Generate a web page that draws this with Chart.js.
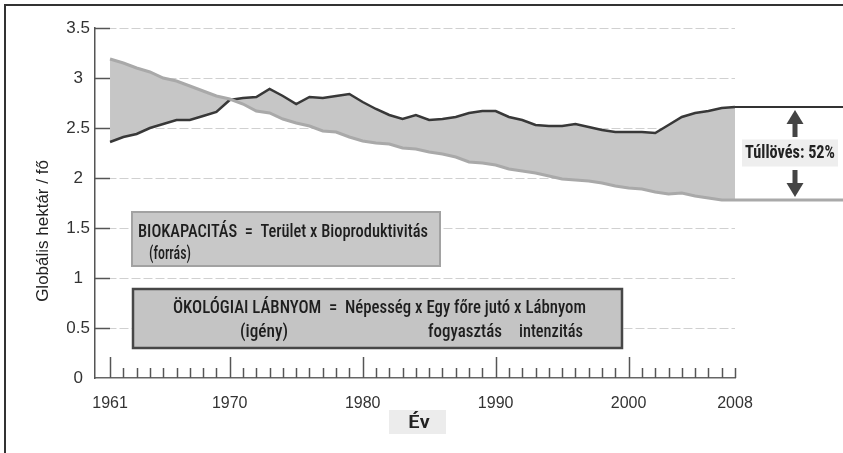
<!DOCTYPE html>
<html>
<head>
<meta charset="utf-8">
<script src="https://cdn.jsdelivr.net/npm/chart.js@4.4.1/dist/chart.umd.min.js"></script>
<style>
html, body { margin: 0; padding: 0; background: #fff; }
</style>
</head>
<body>
<canvas id="graph" width="843" height="453"></canvas>
<script>
// ADATOK
const years = [
    1961, 1962, 1963, 1964, 1965, 1966, 1967, 1968, 1969, 1970,
    1971, 1972, 1973, 1974, 1975, 1976, 1977, 1978, 1979, 1980,
    1981, 1982, 1983, 1984, 1985, 1986, 1987, 1988, 1989, 1990,
    1991, 1992, 1993, 1994, 1995, 1996, 1997, 1998, 1999, 2000,
    2001, 2002, 2003, 2004, 2005, 2006, 2007, 2008
];
const biocapacity = [
    3.19, 3.15, 3.10, 3.06, 3.00, 2.97, 2.92, 2.87, 2.82, 2.79,
    2.74, 2.67, 2.65, 2.59, 2.55, 2.52, 2.47, 2.46, 2.41, 2.37,
    2.35, 2.34, 2.30, 2.29, 2.26, 2.24, 2.21, 2.16, 2.15, 2.13,
    2.09, 2.07, 2.05, 2.02, 1.99, 1.98, 1.97, 1.95, 1.92, 1.90,
    1.89, 1.86, 1.84, 1.85, 1.82, 1.80, 1.78, 1.78
];
const footprint = [
    2.36, 2.41, 2.44, 2.50, 2.54, 2.58, 2.58, 2.62, 2.66, 2.78,
    2.80, 2.81, 2.89, 2.82, 2.74, 2.81, 2.80, 2.82, 2.84, 2.76,
    2.69, 2.63, 2.59, 2.63, 2.58, 2.59, 2.61, 2.65, 2.67, 2.67,
    2.61, 2.58, 2.53, 2.52, 2.52, 2.54, 2.51, 2.48, 2.46, 2.46,
    2.46, 2.45, 2.53, 2.61, 2.65, 2.67, 2.70, 2.71
];
const xLabelYears = [1961, 1970, 1980, 1990, 2000, 2008];
const majorTickYears = [1961, 1970, 1980, 1990, 2000];
const overshootText = "Túllövés: 52%";

const NARROW = "'Roboto Condensed', Roboto, 'Liberation Sans', sans-serif";
const PLAIN = "'Liberation Sans', Arial, sans-serif";

// keskeny szöveg adott szélességre
function fitText(c, text, x, y, size, weight, width) {
    c.save();
    c.font = weight + " " + size + "px " + NARROW;
    const w = c.measureText(text).width;
    c.translate(x, y);
    c.scale(width / w, 1);
    c.textAlign = "left";
    c.textBaseline = "middle";
    c.fillText(text, 0, 0);
    c.restore();
}

function line(c, x1, y1, x2, y2) {
    c.beginPath();
    c.moveTo(x1, y1);
    c.lineTo(x2, y2);
    c.stroke();
}

function arrow(c, x, tip, base, end, dir) {
    // fej
    c.beginPath();
    c.moveTo(x, tip);
    c.lineTo(x - 8.5, base);
    c.lineTo(x + 8.5, base);
    c.closePath();
    c.fill();
    // szár
    if (dir < 0) c.fillRect(x - 2.5, base - 1, 5, end - base + 1);
    else c.fillRect(x - 2.5, end, 5, base - end + 1);
}

const decor = {
    id: "decor",
    beforeDatasetsDraw(chart) {
        const c = chart.ctx;
        const xs = chart.scales.x, ys = chart.scales.y;
        const area = chart.chartArea;
        c.save();
        c.strokeStyle = "#555";
        c.lineWidth = 1.5;
        // sötét csonkok az y rácsvonalakon
        ys.ticks.forEach(t => {
            if (t.value === 0) return;
            const y = Math.round(ys.getPixelForValue(t.value)) + 0.5;
            line(c, area.left, y, xs.getPixelForValue(years[0]), y);
        });
        // év osztások felfelé
        years.forEach(yr => {
            const x = Math.round(xs.getPixelForValue(yr)) + 0.5;
            const h = majorTickYears.includes(yr) ? 21 : 10;
            line(c, x, area.bottom, x, area.bottom - h);
        });
        c.restore();
    },
    afterDatasetsDraw(chart) {
        const c = chart.ctx;
        const xs = chart.scales.x, ys = chart.scales.y;
        const n = years.length - 1;
        const x0 = xs.getPixelForValue(years[n]);
        const yTop = ys.getPixelForValue(footprint[n]);
        const yBot = ys.getPixelForValue(biocapacity[n]);
        c.save();

        // túllövés doboz jobbra
        c.fillStyle = "#fff";
        c.fillRect(x0 + 1, yTop, chart.width - x0, yBot - yTop);
        c.strokeStyle = "#333";
        c.lineWidth = 2;
        line(c, x0, yTop, chart.width, yTop);
        c.strokeStyle = "#a9a9a9";
        c.lineWidth = 3;
        line(c, x0, yBot, chart.width, yBot);

        const xm = x0 + 60;
        const ym = (yTop + yBot) / 2;
        c.fillStyle = "#444";
        arrow(c, xm, yTop + 3, yTop + 17, yTop + 30, -1);
        arrow(c, xm, yBot - 3, yBot - 17, yBot - 30, 1);
        c.fillStyle = "#eeeeee";
        c.fillRect(xm - 53, ym - 14, 96, 27);
        c.fillStyle = "#222";
        fitText(c, overshootText, xm - 50, ym, 18, "bold", 90);

        // BIOKAPACITÁS doboz
        c.fillStyle = "#c8c8c8";
        c.fillRect(132, 212, 308, 54);
        c.strokeStyle = "#a2a2a2";
        c.lineWidth = 2;
        c.strokeRect(132, 212, 308, 54);
        c.fillStyle = "#1e1e1e";
        fitText(c, "BIOKAPACITÁS  =  Terület x Bioproduktivitás", 138, 232, 19, "500", 290);
        fitText(c, "(forrás)", 149, 254, 19, "500", 42);

        // ÖKOLÓGIAI LÁBNYOM doboz
        c.fillStyle = "#c4c4c4";
        c.fillRect(133, 289, 489, 59);
        c.strokeStyle = "#474747";
        c.lineWidth = 2.5;
        c.strokeRect(133, 289, 489, 59);
        c.fillStyle = "#1e1e1e";
        fitText(c, "ÖKOLÓGIAI LÁBNYOM  =  Népesség x Egy főre jutó x Lábnyom", 173, 308, 19, "500", 413);
        fitText(c, "(igény)", 240, 332, 19, "500", 48);
        fitText(c, "fogyasztás", 428, 332, 19, "500", 74);
        fitText(c, "intenzitás", 519, 332, 19, "500", 64);
        c.restore();
    },
    afterDraw(chart) {
        const c = chart.ctx;
        c.save();
        // keret
        c.strokeStyle = "#333";
        c.lineWidth = 2;
        c.beginPath();
        c.moveTo(5, chart.height);
        c.lineTo(5, 5);
        c.lineTo(chart.width, 5);
        c.stroke();

        // y tengely címe
        c.translate(43, 231);
        c.rotate(-Math.PI / 2);
        c.fillStyle = "#222";
        c.font = "17px " + PLAIN;
        c.textAlign = "center";
        c.textBaseline = "middle";
        c.fillText("Globális hektár / fő", 0, 0);
        c.restore();

        // Év
        c.save();
        c.fillStyle = "#ececec";
        c.fillRect(389, 410, 57, 24);
        c.fillStyle = "#222";
        fitText(c, "Év", 408, 423, 18, "500", 22);
        c.restore();
    }
};

// GRAFIKON
const ctx = document.getElementById("graph");
new Chart(ctx, {
    type: "line",
    data: {
        datasets: [
            {
                label: "Biokapacitás",
                data: years.map((yr, i) => ({ x: yr, y: biocapacity[i] })),
                borderColor: "#a9a9a9",
                borderWidth: 3,
                pointRadius: 0,
                tension: 0,
                fill: false,
            },
            {
                label: "Ökológiai lábnyom",
                data: years.map((yr, i) => ({ x: yr, y: footprint[i] })),
                borderColor: "#383838",
                borderWidth: 2.5,
                pointRadius: 0,
                tension: 0,
                fill: "-1",
                backgroundColor: "#c6c6c6",
            },
        ],
    },
    options: {
        responsive: false,
        animation: false,
        layout: {
            padding: { left: 0, right: 108, top: 28, bottom: 0 },
        },
        plugins: {
            legend: { display: false },
            tooltip: { enabled: false },
            filler: { drawTime: "beforeDatasetsDraw" },
        },
        scales: {
            x: {
                type: "linear",
                min: 1959.87,
                max: 2008,
                afterBuildTicks: s => { s.ticks = years.map(v => ({ value: v })); },
                afterFit: s => { s.height = 75; },
                grid: { display: false, drawTicks: false },
                border: { display: true, color: "#666", width: 1.5 },
                ticks: {
                    autoSkip: false,
                    maxRotation: 0,
                    padding: 16,
                    color: "#333",
                    font: { family: PLAIN, size: 16 },
                    callback: v => xLabelYears.includes(v) ? String(v) : "",
                },
            },
            y: {
                min: 0,
                max: 3.5,
                afterFit: s => { s.width = 95; },
                ticks: {
                    stepSize: 0.5,
                    padding: 5,
                    crossAlign: "center",
                    color: "#333",
                    font: { family: PLAIN, size: 17 },
                    callback: v => String(v),
                },
                grid: {
                    drawTicks: false,
                    lineWidth: 1,
                    color: c => (c.tick && c.tick.value === 0) ? "rgba(0,0,0,0)" : "#d0d0d0",
                },
                border: { display: true, color: "#555", width: 1.5, dash: [9, 3] },
            },
        },
    },
    plugins: [decor],
});
</script>
</body>
</html>
